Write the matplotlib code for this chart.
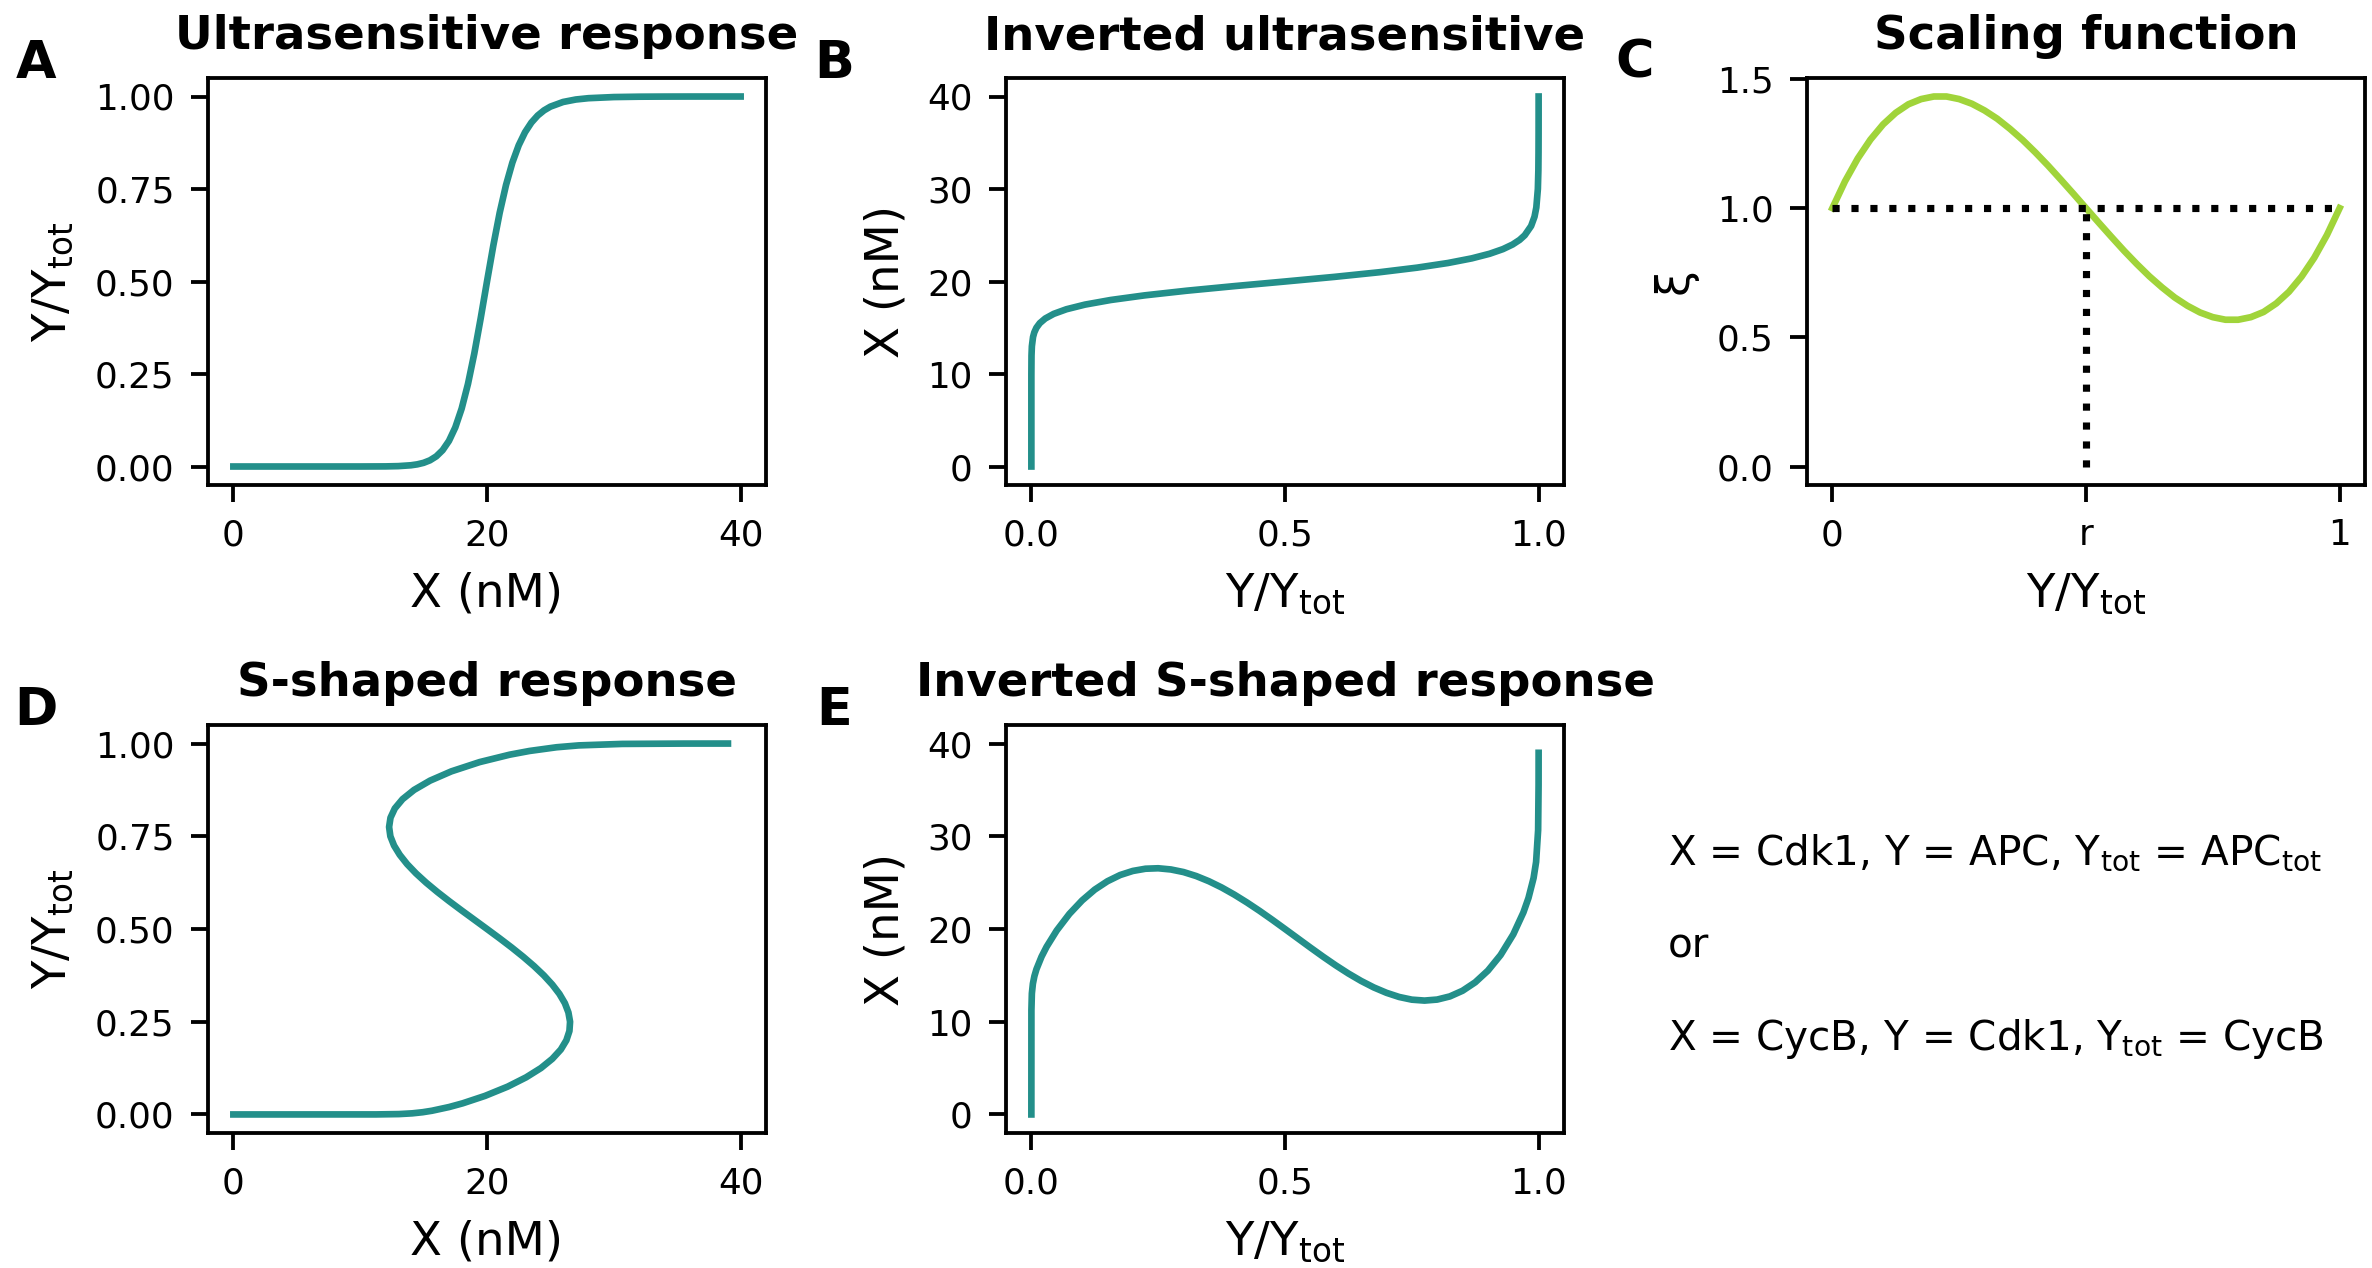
import matplotlib
matplotlib.use("Agg")
import matplotlib.pyplot as plt

# ---------------- data ----------------
# Ultrasensitive response (panels A and B): X (nM) -> Y/Ytot
hill_x = [0, 2, 4, 6, 8, 10, 12, 13, 14, 14.5, 15, 15.5, 16, 16.5, 17, 17.5,
          18, 18.5, 19, 19.5, 20, 20.5, 21, 21.5, 22, 22.5, 23, 23.5, 24,
          24.5, 25, 26, 27, 28, 30, 32, 34, 36, 38, 40]
hill_y = [0.0, 0.0, 0.0, 0.0, 0.0, 0.00002, 0.00028, 0.00101, 0.00331, 0.00579,
          0.00992, 0.01666, 0.02738, 0.04403, 0.06912, 0.10560, 0.15633,
          0.22315, 0.30562, 0.40009, 0.5, 0.59751, 0.68582, 0.76081, 0.82127,
          0.86813, 0.90345, 0.92958, 0.94869, 0.96257, 0.97262, 0.98519,
          0.99185, 0.99543, 0.99848, 0.99946, 0.99979, 0.99992, 0.99997,
          0.99998]

# Scaling function (panel C)
xi_y = [0.0, 0.025, 0.05, 0.075, 0.1, 0.125, 0.15, 0.175, 0.2, 0.225, 0.25,
        0.275, 0.3, 0.325, 0.35, 0.375, 0.4, 0.425, 0.45, 0.475, 0.5, 0.525,
        0.55, 0.575, 0.6, 0.625, 0.65, 0.675, 0.7, 0.725, 0.75, 0.775, 0.8,
        0.825, 0.85, 0.875, 0.9, 0.925, 0.95, 0.975, 1.0]
xi_val = [1.0, 1.104, 1.192, 1.265, 1.324, 1.369, 1.402, 1.422, 1.432, 1.432,
          1.422, 1.404, 1.378, 1.346, 1.307, 1.264, 1.216, 1.165, 1.111, 1.056,
          1.0, 0.944, 0.889, 0.835, 0.784, 0.736, 0.693, 0.654, 0.622, 0.596,
          0.578, 0.568, 0.568, 0.578, 0.598, 0.631, 0.676, 0.735, 0.808, 0.896,
          1.0]
r_value = 0.5
xi_ref = 1.0
c_ticks = [0, r_value, 1]
c_ticklabels = ["0", "r", "1"]

# S-shaped response (panels D and E): Y/Ytot -> X (nM)
s_y = [0.0, 0.0001, 0.001, 0.003, 0.006, 0.01, 0.02, 0.03, 0.05, 0.075, 0.1,
       0.125, 0.15, 0.175, 0.2, 0.225, 0.25, 0.275, 0.3, 0.325, 0.35, 0.375,
       0.4, 0.425, 0.45, 0.475, 0.5, 0.525, 0.55, 0.575, 0.6, 0.625, 0.65,
       0.675, 0.7, 0.725, 0.75, 0.775, 0.8, 0.825, 0.85, 0.875, 0.9, 0.925,
       0.95, 0.97, 0.98, 0.99, 0.995, 0.999, 0.9999, 0.99998]
s_x = [0.0, 11.25, 13.05, 14.10, 14.92, 15.66, 17.01, 18.08, 19.84, 21.63,
       23.08, 24.25, 25.15, 25.82, 26.26, 26.50, 26.55, 26.42, 26.14, 25.71,
       25.15, 24.48, 23.71, 22.86, 21.95, 20.99, 20.00, 19.00, 18.00, 17.02,
       16.08, 15.20, 14.40, 13.70, 13.12, 12.67, 12.38, 12.28, 12.39, 12.73,
       13.34, 14.25, 15.51, 17.19, 19.42, 21.79, 23.35, 25.49, 27.23, 30.66,
       35.55, 39.0]

x_ticks = [0, 20, 40]
nm_ticks = [0, 10, 20, 30, 40]
frac_ticks = [0.0, 0.25, 0.5, 0.75, 1.0]
frac_ticklabels = ["0.00", "0.25", "0.50", "0.75", "1.00"]
y_ticks = [0.0, 0.5, 1.0]
y_ticklabels = ["0.0", "0.5", "1.0"]
xi_ticks = [0.0, 0.5, 1.0, 1.5]
xi_ticklabels = ["0.0", "0.5", "1.0", "1.5"]

titles = ["Ultrasensitive response", "Inverted ultrasensitive", "Scaling function",
          "S-shaped response", "Inverted S-shaped response"]
letters = ["A", "B", "C", "D", "E"]
notes = ["X = Cdk1, Y = APC, Y$_{\\rm tot}$ = APC$_{\\rm tot}$",
         "or",
         "X = CycB, Y = Cdk1, Y$_{\\rm tot}$ = CycB"]

# ---------------- style ----------------
TEAL = "#238f8a"
LIME = "#a0d43a"
YLAB = "Y/Y$_{\\rm tot}$"
XLAB = "X (nM)"

plt.rcParams.update({
    "font.family": ["DejaVu Sans"],
    "xtick.labelsize": 7.5,
    "ytick.labelsize": 7.5,
    "axes.labelsize": 9.8,
    "axes.titlesize": 9.8,
    "axes.titleweight": "bold",
    "lines.linewidth": 1.4,
})

DPI = 343
W, H = 2372, 1268
fig = plt.figure(figsize=(W / DPI, H / DPI), dpi=DPI)


def px_axes(left, top, w, h):
    return fig.add_axes([left / W, 1 - (top + h) / H, w / W, h / H])


axA = px_axes(208, 78, 558, 407)
axB = px_axes(1006, 78, 558, 407)
axC = px_axes(1807, 78, 558, 407)
axD = px_axes(208, 725, 558, 408)
axE = px_axes(1006, 725, 558, 408)
axes = [axA, axB, axC, axD, axE]

# A
axA.plot(hill_x, hill_y, color=TEAL)
axA.set_xlim(-2, 42)
axA.set_ylim(-0.05, 1.05)
axA.set_xticks(x_ticks)
axA.set_yticks(frac_ticks)
axA.set_yticklabels(frac_ticklabels)
axA.set_xlabel(XLAB)
axA.set_ylabel(YLAB)

# B
axB.plot(hill_y, hill_x, color=TEAL)
axB.set_xlim(-0.05, 1.05)
axB.set_ylim(-2, 42)
axB.set_xticks(y_ticks)
axB.set_xticklabels(y_ticklabels)
axB.set_yticks(nm_ticks)
axB.set_xlabel(YLAB)
axB.set_ylabel(XLAB)

# C
axC.plot(xi_y, xi_val, color=LIME, zorder=2)
axC.plot([0, 1], [xi_ref, xi_ref], linestyle=":", color="black", lw=1.5, zorder=3)
axC.plot([r_value, r_value], [0, xi_ref], linestyle=":", color="black", lw=1.5, zorder=3)
axC.set_xlim(-0.05, 1.05)
axC.set_ylim(-0.0716, 1.5036)
axC.set_xticks(c_ticks)
axC.set_xticklabels(c_ticklabels)
axC.set_yticks(xi_ticks)
axC.set_yticklabels(xi_ticklabels)
axC.set_xlabel(YLAB)
axC.set_ylabel("ξ")

# D
axD.plot(s_x, s_y, color=TEAL)
axD.set_xlim(-2, 42)
axD.set_ylim(-0.05, 1.05)
axD.set_xticks(x_ticks)
axD.set_yticks(frac_ticks)
axD.set_yticklabels(frac_ticklabels)
axD.set_xlabel(XLAB)
axD.set_ylabel(YLAB)

# E
axE.plot(s_y, s_x, color=TEAL)
axE.set_xlim(-0.05, 1.05)
axE.set_ylim(-2, 42)
axE.set_xticks(y_ticks)
axE.set_xticklabels(y_ticklabels)
axE.set_yticks(nm_ticks)
axE.set_xlabel(YLAB)
axE.set_ylabel(XLAB)

for ax, t in zip(axes, titles):
    ax.set_title(t)

letter_pos = [(208, 78), (1006, 78), (1807, 78), (208, 725), (1006, 725)]
for (lx, ty), let in zip(letter_pos, letters):
    fig.text((lx - 172) / W, 1 - ty / H, let, ha="center", va="baseline",
             fontsize=11, fontweight="bold")

for yb, s in zip([864, 957, 1050], notes):
    fig.text(1668 / W, 1 - yb / H, s, ha="left", va="baseline", fontsize=8.5)

fig.savefig("out.png", dpi=DPI)
